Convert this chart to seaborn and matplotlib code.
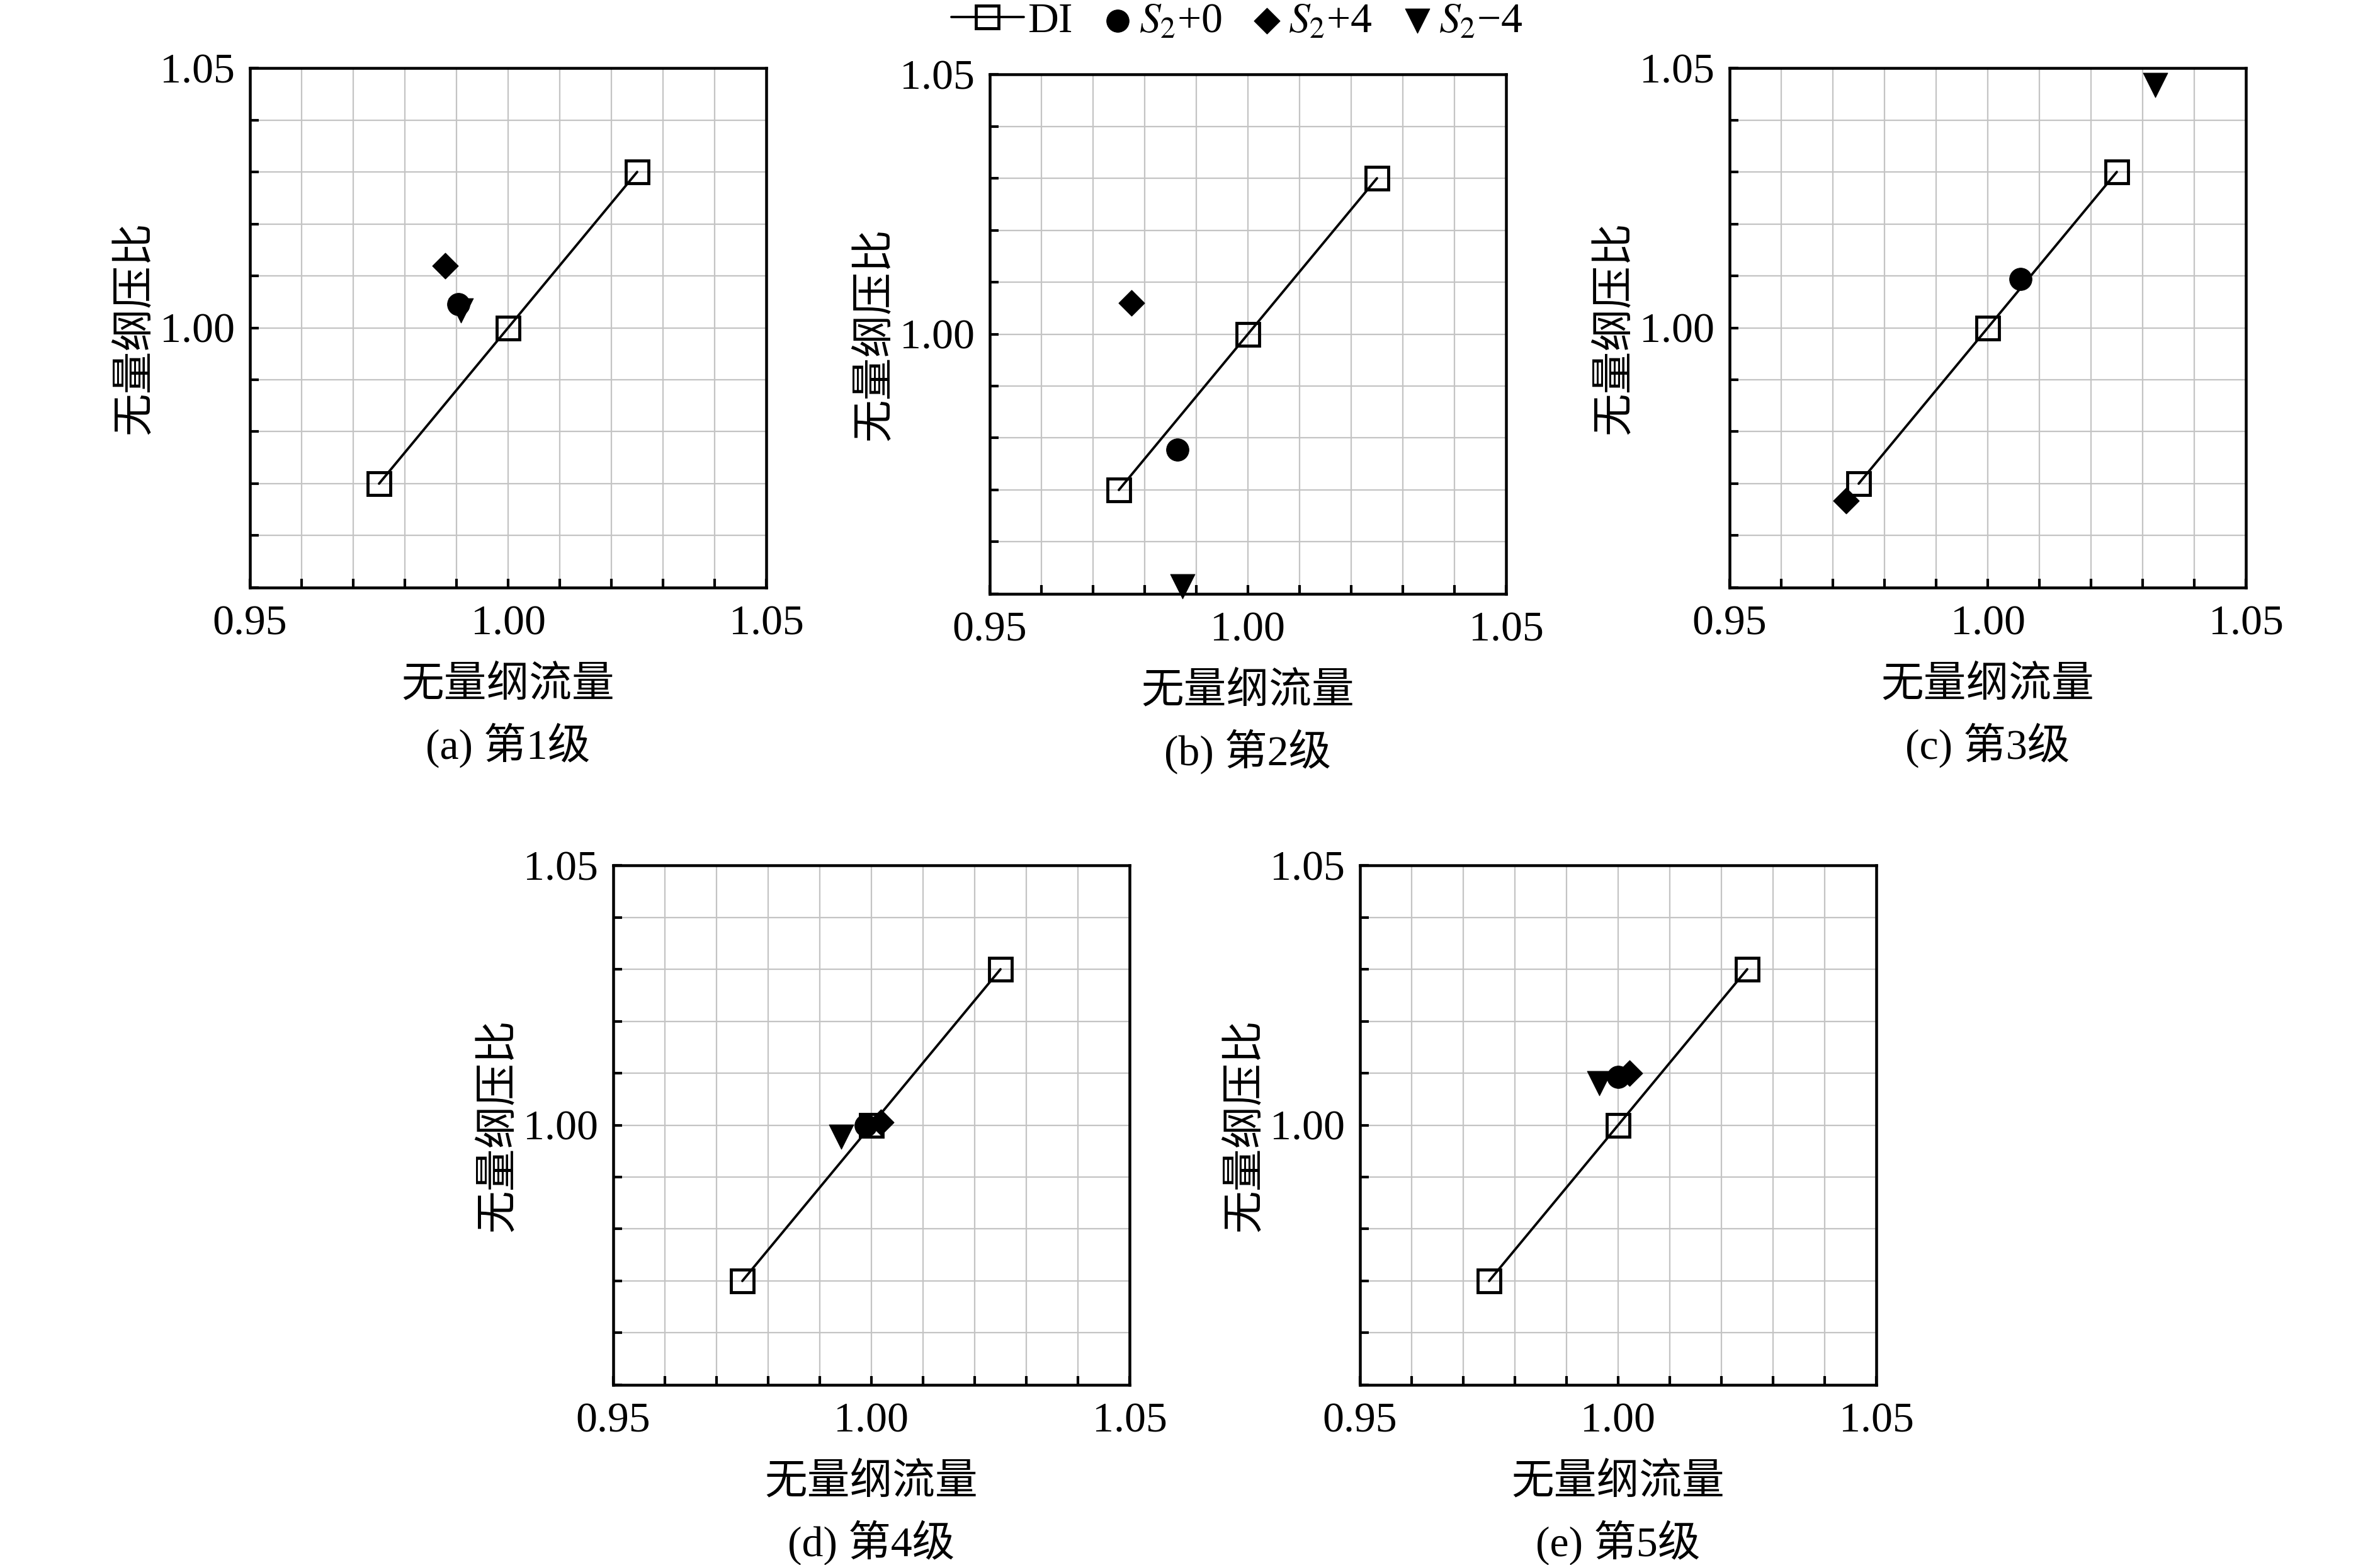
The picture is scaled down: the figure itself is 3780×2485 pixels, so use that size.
import matplotlib
matplotlib.use("Agg")
import numpy as np
import pandas as pd
import seaborn as sns
import matplotlib.pyplot as plt
from matplotlib.ticker import MultipleLocator, FixedLocator
from matplotlib.legend_handler import HandlerLine2D

# ---------------- data ----------------
panel_titles = ["(a) 第1级", "(b) 第2级", "(c) 第3级", "(d) 第4级", "(e) 第5级"]
series_labels = ["DI", "$S_2$+0", "$S_2$+4", "$S_2$\u22124"]

di_flow = [0.975, 1.000, 1.025]
di_pr = [0.970, 1.000, 1.030]

s0_flow = [0.9904, 0.9863, 1.0063, 0.9989, 1.0000]
s0_pr = [1.0046, 0.9778, 1.0094, 1.0000, 1.0093]

sp4_flow = [0.9878, 0.9774, 0.9726, 1.0018, 1.0022]
sp4_pr = [1.0119, 1.0060, 0.9667, 1.0006, 1.0100]

sm4_flow = [0.9909, 0.9873, 1.0324, 0.9941, 0.9964]
sm4_pr = [1.0033, 0.9514, 1.0467, 0.9978, 1.0081]

x_major = [0.95, 1.00, 1.05]
y_major = [1.00, 1.05]
x_label = "无量纲流量"
y_label = "无量纲压比"

# ---------------- style ----------------
sns.set_theme(style="white")
plt.rcParams["font.family"] = ["Liberation Serif", "Noto Sans CJK SC"]
plt.rcParams["mathtext.fontset"] = "stix"
plt.rcParams["text.color"] = "black"
plt.rcParams["axes.labelcolor"] = "black"
plt.rcParams["xtick.color"] = "black"
plt.rcParams["ytick.color"] = "black"

FS = 19.5
W, H = 3780, 2485
fig = plt.figure(figsize=(W / 250, H / 250), dpi=250)

# axes rectangles in pixels: left, top, width, height
rects_px = [
    (397, 108, 820, 825),
    (1572, 118, 820, 825),
    (2747, 108, 820, 825),
    (974, 1374, 820, 825),
    (2160, 1374, 820, 825),
]

axes = []
for i, (l, t, w, h) in enumerate(rects_px):
    ax = fig.add_axes([l / W, (H - t - h) / H, w / W, h / H])
    axes.append(ax)

    first = i == 0
    sns.lineplot(x=di_flow, y=di_pr, ax=ax, color="black", linewidth=1.1,
                 marker="s", markersize=10.5, markerfacecolor="none",
                 markeredgecolor="black", markeredgewidth=1.4,
                 estimator=None, sort=False, zorder=3,
                 label=series_labels[0] if first else None, legend=first)
    sns.scatterplot(x=[s0_flow[i]], y=[s0_pr[i]], ax=ax, marker="o", s=105,
                    color="black", edgecolor="black", linewidth=0.3,
                    zorder=5, clip_on=False,
                    label=series_labels[1] if first else None, legend=first)
    sns.scatterplot(x=[sp4_flow[i]], y=[sp4_pr[i]], ax=ax, marker="D", s=70,
                    color="black", edgecolor="black", linewidth=0.3,
                    zorder=5, clip_on=False,
                    label=series_labels[2] if first else None, legend=first)
    sns.scatterplot(x=[sm4_flow[i]], y=[sm4_pr[i]], ax=ax, marker="v", s=125,
                    color="black", edgecolor="black", linewidth=0.3,
                    zorder=5, clip_on=False,
                    label=series_labels[3] if first else None, legend=first)

    ax.set_xlim(0.95, 1.05)
    ax.set_ylim(0.95, 1.05)
    ax.xaxis.set_major_locator(FixedLocator(x_major))
    ax.yaxis.set_major_locator(FixedLocator(y_major))
    ax.xaxis.set_minor_locator(MultipleLocator(0.01))
    ax.yaxis.set_minor_locator(MultipleLocator(0.01))
    ax.set_xticklabels([f"{v:.2f}" for v in x_major])
    ax.set_yticklabels([f"{v:.2f}" for v in y_major])
    ax.grid(True, which="both", color="#c4c4c4", linewidth=0.65, zorder=0)
    ax.set_axisbelow(True)
    ax.tick_params(which="both", direction="in", length=4.0, width=1.2,
                   bottom=True, left=True, top=False, right=False,
                   labelsize=FS, colors="black")
    ax.tick_params(axis="x", which="major", pad=8)
    ax.tick_params(axis="y", which="major", pad=7)
    for sp in ax.spines.values():
        sp.set_visible(True)
        sp.set_color("black")
        sp.set_linewidth(1.3)
        sp.set_zorder(4)

    ax.set_xlabel(x_label, fontsize=FS)
    ax.xaxis.set_label_coords(0.5, -155 / h)
    ax.xaxis.label.set_va("center")
    ax.set_ylabel(y_label, fontsize=FS)
    ax.yaxis.set_label_coords(-183 / w, 0.5)
    ax.yaxis.label.set_va("center")
    ax.text(0.5, -250 / h, panel_titles[i], transform=ax.transAxes,
            ha="center", va="center", fontsize=FS)

# ---------------- legend ----------------
handles, labels = axes[0].get_legend_handles_labels()
if axes[0].get_legend() is not None:
    axes[0].get_legend().remove()
hmap = {handles[0]: HandlerLine2D(xpad=-0.9)}
fig.legend(handles, labels, handler_map=hmap, loc="center",
           bbox_to_anchor=(1995 / W, 1 - 34 / H), ncol=4, frameon=False,
           fontsize=FS, handlelength=0.8, handletextpad=0.1,
           columnspacing=0.65, borderpad=0, borderaxespad=0)

fig.savefig("out.png", dpi=250)
